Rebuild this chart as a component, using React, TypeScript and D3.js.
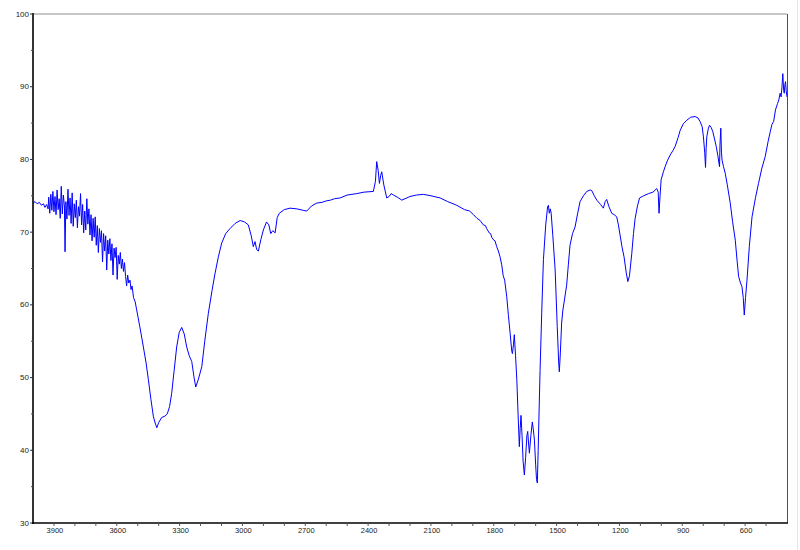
import * as d3 from "d3";
import { useEffect, useRef } from "react";

// IR spectrum, [wavenumber cm-1, %T]
const baseline4000: [number, number][] = [
  [4000, 74.0], [3990, 74.2], [3980, 73.9], [3970, 74.1], [3960, 73.7],
  [3950, 73.9], [3943, 73.4], [3935, 73.8], [3928, 73.2],
];

const noisyOH: [number, number][] = [
  [3925, 74.8], [3920, 72.6], [3915, 75.2], [3910, 73.0], [3905, 75.6],
  [3900, 72.8], [3895, 74.9], [3890, 72.4], [3885, 75.8], [3880, 73.1],
  [3875, 74.6], [3870, 71.9], [3865, 76.3], [3860, 72.5], [3855, 75.1],
  [3850, 73.6], [3847, 67.3], [3843, 74.2], [3838, 71.8], [3833, 75.9],
  [3828, 72.3], [3823, 74.7], [3818, 71.2], [3813, 75.4], [3808, 70.8],
  [3803, 73.9], [3798, 72.0], [3793, 74.4], [3788, 70.6], [3783, 73.5],
  [3778, 72.2], [3773, 75.3], [3768, 71.0], [3763, 73.8], [3758, 69.9],
  [3753, 72.9], [3748, 70.3], [3743, 74.6], [3738, 71.1], [3733, 73.2],
  [3728, 69.6], [3723, 72.4], [3718, 68.8], [3713, 71.9], [3708, 69.3],
  [3703, 72.1], [3698, 68.2], [3693, 70.9], [3688, 67.2], [3683, 70.5],
  [3678, 68.6], [3673, 70.2], [3668, 65.9], [3663, 69.8], [3658, 67.4],
  [3653, 69.5], [3648, 64.8], [3643, 68.9], [3638, 67.0], [3633, 69.1],
  [3628, 66.1], [3623, 68.4], [3618, 64.1], [3613, 67.8], [3608, 66.5],
  [3603, 67.9], [3598, 63.5], [3593, 66.8], [3588, 65.6], [3583, 67.2],
  [3578, 65.0], [3573, 66.3], [3568, 64.6], [3563, 65.8], [3558, 63.9],
  [3553, 62.6], [3548, 64.1], [3543, 63.0],
];

const ohBand: [number, number][] = [
  [3537, 63.4], [3532, 62.1], [3527, 62.6], [3520, 61.0], [3512, 60.4],
  [3505, 59.3], [3490, 57.0], [3473, 54.2],
  [3460, 52.0], [3449, 49.7], [3437, 47.0], [3425, 44.6], [3415, 43.6],
  [3409, 43.1], [3400, 43.8], [3386, 44.5], [3370, 44.7], [3359, 45.0],
  [3348, 46.0], [3338, 47.8], [3326, 51.0], [3314, 54.2], [3302, 56.2],
  [3290, 56.9], [3278, 56.0], [3266, 54.2], [3254, 53.0], [3242, 52.2],
  [3232, 50.2], [3223, 48.7], [3210, 49.8], [3194, 51.5], [3180, 55.0],
  [3163, 58.8], [3145, 62.0], [3131, 64.3], [3115, 66.6], [3099, 68.5],
  [3080, 69.8], [3059, 70.5], [3035, 71.2], [3011, 71.6],
];

const chRegion: [number, number][] = [
  [2990, 71.4], [2972, 71.0], [2958, 69.5], [2948, 68.0], [2940, 68.7],
  [2932, 67.6], [2924, 67.4], [2912, 69.0], [2900, 70.3], [2885, 71.4],
  [2874, 71.0], [2865, 69.8], [2855, 70.2], [2844, 69.9], [2834, 72.0],
  [2824, 72.6], [2800, 73.1], [2773, 73.3], [2740, 73.2], [2710, 73.0],
  [2693, 72.9], [2670, 73.6], [2645, 74.0], [2620, 74.1], [2600, 74.3],
  [2580, 74.4], [2560, 74.6],
  [2534, 74.7], [2500, 75.1], [2454, 75.3], [2420, 75.5], [2375, 75.6],
  [2365, 77.0], [2359, 79.7], [2352, 78.5], [2346, 76.7], [2340, 77.8],
  [2335, 78.3], [2325, 76.5], [2311, 74.7], [2300, 74.9], [2290, 75.3],
  [2279, 75.1], [2260, 74.8], [2239, 74.4], [2200, 74.9], [2170, 75.1],
  [2136, 75.2], [2100, 75.0], [2056, 74.7], [2020, 74.2], [1977, 73.7],
  [1940, 73.1], [1915, 72.9], [1897, 72.4], [1880, 71.9], [1865, 71.6],
  [1850, 71.0], [1840, 70.9], [1834, 70.5], [1822, 69.9], [1815, 69.8],
  [1810, 69.3], [1800, 68.9], [1794, 68.8], [1786, 68.0], [1778, 67.4],
  [1770, 66.6], [1762, 65.5], [1755, 64.0], [1748, 63.4],
];

const carbonylRegion: [number, number][] = [
  [1738, 61.1], [1730, 58.5], [1722, 56.1], [1714, 53.6], [1711, 53.3],
  [1706, 54.5], [1702, 55.9], [1696, 53.0], [1690, 49.7], [1684, 45.0],
  [1678, 40.5], [1674, 43.0], [1670, 44.8], [1665, 42.0], [1660, 38.5],
  [1654, 36.6], [1648, 39.0], [1642, 42.0], [1638, 42.6], [1634, 41.0],
  [1630, 39.6], [1623, 42.0], [1616, 43.9], [1611, 42.8], [1606, 41.4],
  [1600, 38.0], [1596, 36.0], [1592, 35.5], [1588, 40.0], [1584, 45.0],
  [1579, 51.0], [1571, 59.0], [1563, 66.2], [1552, 71.0], [1543, 73.5],
  [1539, 73.7], [1535, 72.6], [1530, 73.2], [1526, 72.6], [1518, 69.5],
  [1507, 64.8], [1497, 57.0], [1490, 52.0], [1487, 50.8], [1482, 53.5],
  [1476, 57.5], [1470, 59.3], [1462, 60.8], [1452, 62.7], [1444, 65.5],
  [1436, 68.2], [1424, 69.8], [1412, 70.7], [1400, 72.5], [1388, 74.2],
];

const fingerprint: [number, number][] = [
  [1372, 75.0], [1356, 75.6], [1340, 75.8], [1332, 75.7], [1320, 75.0],
  [1308, 74.4], [1290, 73.8], [1277, 73.3], [1268, 74.2], [1261, 74.5],
  [1250, 73.5], [1237, 72.6], [1225, 72.4], [1213, 72.1], [1205, 71.0],
  [1197, 69.6], [1188, 68.0], [1178, 66.6], [1168, 64.5], [1160, 63.2],
  [1152, 64.0], [1141, 67.1], [1133, 69.8], [1125, 71.9], [1114, 73.6],
  [1104, 74.7], [1085, 75.0], [1061, 75.3], [1040, 75.5], [1022, 76.0],
  [1015, 75.5], [1011, 72.6], [1006, 75.0], [1001, 77.2], [990, 78.3],
  [982, 79.0], [970, 79.9], [958, 80.6], [945, 81.2], [934, 81.8],
  [920, 83.0], [910, 84.0], [895, 84.9], [878, 85.4], [860, 85.8],
  [839, 85.9], [825, 85.7], [815, 85.2], [805, 84.5], [799, 83.1],
  [793, 81.0], [789, 78.9], [786, 81.5], [783, 83.1], [776, 84.2],
  [770, 84.7], [762, 84.4], [754, 83.8], [746, 82.8], [738, 81.8],
  [730, 80.5], [725, 79.5], [722, 79.0], [720, 82.0], [716, 84.3],
  [713, 81.0], [710, 79.9], [703, 79.0], [695, 78.1], [685, 76.5],
];

const lowRegion: [number, number][] = [
  [671, 74.0], [660, 71.5], [647, 68.9], [638, 66.0], [631, 63.9],
  [622, 63.0], [615, 62.5], [609, 61.0], [604, 58.6], [598, 61.0],
  [591, 63.4], [580, 68.0], [567, 72.1], [550, 74.8], [536, 76.7],
  [520, 78.8], [504, 80.4], [490, 82.5], [480, 83.8], [472, 84.8],
  [464, 85.2], [455, 86.8], [445, 87.7], [439, 88.2], [433, 89.1],
  [428, 88.6], [424, 90.0], [420, 91.8], [416, 89.5], [413, 89.1],
  [410, 90.3], [407, 90.7], [404, 89.5], [400, 88.6],
];

const xLabels = [3900, 3600, 3300, 3000, 2700, 2400, 2100, 1800, 1500, 1200, 900, 600];
const xMinorTicks = d3.range(3900, 400, -100);
const yLabels = [30, 40, 50, 60, 70, 80, 90, 100];
const yMinorTicks = [35, 45, 55, 65, 75, 85, 95];

export default function App() {
  const ref = useRef<SVGSVGElement>(null);
  const width = 800;
  const height = 550;
  const margin = { top: 14, right: 13, bottom: 27, left: 33 };

  useEffect(() => {
    const spectrum = [
      ...baseline4000, ...noisyOH, ...ohBand, ...chRegion,
      ...carbonylRegion, ...fingerprint, ...lowRegion,
    ];

    const svg = d3.select(ref.current);
    svg.selectAll("*").remove();

    const x = d3.scaleLinear().domain([4000, 400]).range([margin.left, width - margin.right]);
    const y = d3.scaleLinear().domain([30, 100]).range([height - margin.bottom, margin.top]);
    const font = "'Liberation Sans', Arial, sans-serif";

    // frame
    svg.append("line")
      .attr("x1", margin.left).attr("x2", width - margin.right)
      .attr("y1", margin.top).attr("y2", margin.top)
      .attr("stroke", "#b4b4b4").attr("stroke-width", 1.5);
    svg.append("line")
      .attr("x1", width - margin.right + 0.5).attr("x2", width - margin.right + 0.5)
      .attr("y1", margin.top).attr("y2", height - margin.bottom)
      .attr("stroke", "#505050").attr("stroke-width", 1);
    svg.append("line")
      .attr("x1", 797.5).attr("x2", 797.5).attr("y1", 0).attr("y2", height)
      .attr("stroke", "#e4e4e4").attr("stroke-width", 1);

    // spectrum
    const line = d3.line<[number, number]>()
      .x((d) => x(d[0]))
      .y((d) => y(d[1]));
    svg.append("path")
      .datum(spectrum)
      .attr("fill", "none")
      .attr("stroke", "#0000ff")
      .attr("stroke-width", 1)
      .attr("stroke-linejoin", "round")
      .attr("d", line);

    // y axis
    const yAxis = svg.append("g");
    yAxis.append("line")
      .attr("x1", margin.left).attr("x2", margin.left)
      .attr("y1", margin.top - 1).attr("y2", height - margin.bottom + 1)
      .attr("stroke", "#000").attr("stroke-width", 1.6);
    yLabels.forEach((v) => {
      yAxis.append("line")
        .attr("x1", margin.left - 3).attr("x2", margin.left)
        .attr("y1", y(v)).attr("y2", y(v))
        .attr("stroke", "#333");
      yAxis.append("text")
        .attr("x", margin.left - 4).attr("y", y(v) + 0.5)
        .attr("text-anchor", "end").attr("dominant-baseline", "middle")
        .attr("font-family", font).attr("font-size", 8).attr("fill", "#222")
        .text(v);
    });
    yMinorTicks.forEach((v) => {
      yAxis.append("line")
        .attr("x1", margin.left - 2).attr("x2", margin.left)
        .attr("y1", y(v)).attr("y2", y(v))
        .attr("stroke", "#555");
    });

    // x axis
    const xAxis = svg.append("g");
    const by = height - margin.bottom;
    xAxis.append("line")
      .attr("x1", margin.left - 1).attr("x2", width - margin.right + 1)
      .attr("y1", by).attr("y2", by)
      .attr("stroke", "#000").attr("stroke-width", 1.6);
    xMinorTicks.forEach((v) => {
      xAxis.append("line")
        .attr("x1", x(v)).attr("x2", x(v))
        .attr("y1", by).attr("y2", by + 3)
        .attr("stroke", "#555");
    });
    xLabels.forEach((v) => {
      xAxis.append("text")
        .attr("x", x(v) + 1).attr("y", by + 8.5)
        .attr("text-anchor", "middle").attr("dominant-baseline", "middle")
        .attr("font-family", font).attr("font-size", 7.5).attr("fill", "#222")
        .text(v);
    });
  }, []);

  return (
    <div style={{ position: "fixed", left: 0, top: 0, width, height, background: "#fff" }}>
      <svg ref={ref} width={width} height={height} />
    </div>
  );
}
